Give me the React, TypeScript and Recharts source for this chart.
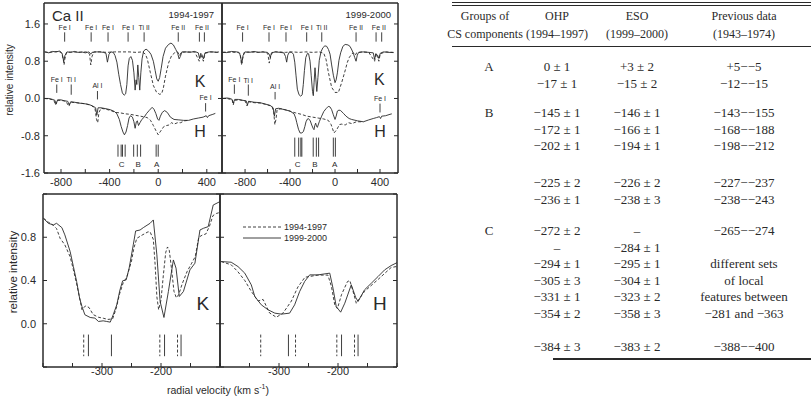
import React from 'react';
import { LineChart, Line, XAxis, YAxis, ReferenceLine, ReferenceDot, ReferenceArea, Legend } from 'recharts';

type Pt = [number, number];

// ---- top panels: Ca II K (plotted around 1.0) and H (around 0.0), velocity in km/s
const kOhpSolid: Pt[] = [
  [-935, 1.0], [-900, 0.98], [-870, 1.01], [-840, 1.0], [-810, 1.02], [-790, 0.96], [-778, 0.8], [-768, 0.92],
  [-750, 1.0], [-720, 0.99], [-690, 1.01], [-660, 0.99], [-630, 1.0], [-600, 0.98], [-570, 1.0], [-555, 0.95],
  [-545, 0.99], [-510, 1.0], [-480, 1.0], [-450, 0.99], [-430, 0.97], [-418, 0.78], [-405, 0.95], [-390, 1.0],
  [-370, 0.99], [-355, 0.92], [-340, 0.78], [-325, 0.52], [-310, 0.3], [-295, 0.12], [-280, 0.07], [-268, 0.1],
  [-258, 0.3], [-248, 0.7], [-238, 0.86], [-225, 0.9], [-212, 0.82], [-200, 0.55], [-190, 0.18], [-182, 0.4],
  [-176, 0.3], [-168, 0.72], [-160, 0.45], [-152, 0.18], [-143, 0.55], [-133, 0.85], [-120, 1.02], [-100, 1.06],
  [-80, 1.02], [-60, 0.95], [-40, 0.8], [-25, 0.6], [-12, 0.42], [0, 0.37], [12, 0.45], [25, 0.65], [40, 0.9],
  [60, 1.08], [85, 1.16], [105, 1.19], [125, 1.15], [145, 1.05], [160, 0.97], [172, 0.85], [182, 0.9], [195, 1.0],
  [230, 1.0], [260, 0.99], [300, 1.01], [330, 0.98], [340, 0.86], [350, 0.97], [360, 0.94], [372, 0.85],
  [385, 0.98], [420, 1.0], [450, 1.0], [480, 0.99], [500, 1.0],
];
const kOhpDash: Pt[] = [
  [-935, 1.0], [-900, 0.99], [-860, 1.0], [-820, 1.01], [-795, 0.98], [-782, 0.85], [-775, 0.72], [-768, 0.85],
  [-755, 0.99], [-700, 1.0], [-640, 0.99], [-590, 1.0], [-565, 0.95], [-555, 0.72], [-545, 0.9], [-530, 1.0],
  [-480, 1.0], [-420, 0.99], [-360, 1.0], [-300, 1.0], [-240, 1.0], [-180, 0.99], [-130, 1.0], [-105, 0.95],
  [-90, 0.85], [-65, 0.56], [-40, 0.28], [-15, 0.14], [10, 0.09], [28, 0.1], [42, 0.22], [60, 0.48], [85, 0.76],
  [110, 0.92], [135, 0.98], [160, 1.0], [175, 0.92], [190, 0.99], [230, 1.0], [300, 1.0], [338, 0.8], [350, 0.95],
  [372, 0.8], [385, 0.97], [430, 1.0], [500, 0.99],
];
const hOhpSolid: Pt[] = [
  [-935, 0.0], [-900, 0.0], [-870, -0.02], [-850, -0.04], [-840, -0.12], [-828, -0.03], [-800, -0.03], [-770, -0.05],
  [-745, -0.06], [-732, -0.14], [-720, -0.07], [-690, -0.08], [-650, -0.1], [-610, -0.11], [-570, -0.13],
  [-540, -0.16], [-515, -0.2], [-505, -0.36], [-495, -0.2], [-470, -0.2], [-430, -0.22], [-395, -0.24],
  [-360, -0.28], [-340, -0.33], [-320, -0.45], [-305, -0.6], [-290, -0.72], [-278, -0.78], [-265, -0.72],
  [-252, -0.58], [-240, -0.42], [-228, -0.37], [-212, -0.4], [-200, -0.5], [-190, -0.64], [-180, -0.5],
  [-172, -0.48], [-162, -0.58], [-150, -0.52], [-135, -0.45], [-118, -0.41], [-95, -0.32], [-75, -0.26],
  [-50, -0.19], [-35, -0.23], [-20, -0.32], [-5, -0.44], [6, -0.47], [18, -0.38], [33, -0.3], [53, -0.26],
  [75, -0.3], [100, -0.4], [130, -0.45], [170, -0.46], [210, -0.47], [250, -0.47], [290, -0.44], [330, -0.42],
  [370, -0.4], [395, -0.37], [405, -0.41], [415, -0.37], [450, -0.34], [470, -0.32],
];
const hOhpDash: Pt[] = [
  [-935, 0.0], [-900, -0.01], [-860, -0.03], [-845, -0.14], [-835, -0.04], [-800, -0.04], [-760, -0.06],
  [-735, -0.17], [-722, -0.08], [-680, -0.09], [-640, -0.1], [-590, -0.12], [-550, -0.15], [-520, -0.22],
  [-508, -0.45], [-498, -0.52], [-488, -0.3], [-470, -0.21], [-430, -0.23], [-390, -0.26], [-350, -0.3],
  [-310, -0.31], [-270, -0.33], [-230, -0.34], [-190, -0.36], [-146, -0.38], [-110, -0.4], [-91, -0.41],
  [-63, -0.47], [-40, -0.58], [-21, -0.68], [0, -0.78], [20, -0.7], [47, -0.6], [70, -0.58], [88, -0.57],
  [110, -0.52], [130, -0.55], [160, -0.52], [185, -0.52], [215, -0.48], [245, -0.47],
];
const kEsoSolid: Pt[] = [
  [-1000, 0.99], [-963, 0.985], [-920, 1.01], [-874, 1.0], [-848, 0.97], [-836, 0.85], [-828, 0.76], [-818, 0.92],
  [-800, 1.0], [-760, 0.99], [-720, 1.01], [-680, 0.99], [-640, 1.0], [-600, 0.99], [-585, 0.95], [-576, 0.88],
  [-565, 0.98], [-530, 1.0], [-490, 0.99], [-455, 0.98], [-440, 0.9], [-430, 0.78], [-420, 0.93], [-405, 1.0],
  [-385, 0.99], [-370, 0.95], [-358, 0.78], [-347, 0.5], [-335, 0.2], [-320, 0.08], [-305, 0.05], [-292, 0.08],
  [-282, 0.3], [-272, 0.6], [-260, 0.88], [-245, 0.97], [-235, 0.96], [-222, 0.8], [-212, 0.5], [-200, 0.15],
  [-193, 0.06], [-186, 0.35], [-178, 0.66], [-170, 0.4], [-162, 0.15], [-152, 0.45], [-140, 0.82], [-125, 1.0],
  [-108, 1.09], [-90, 1.13], [-74, 1.12], [-58, 1.05], [-44, 0.95], [-30, 0.72], [-15, 0.5], [0, 0.34], [10, 0.4],
  [21, 0.55], [35, 0.82], [50, 0.98], [70, 1.12], [90, 1.16], [115, 1.15], [133, 1.12], [150, 1.04], [163, 0.97],
  [175, 0.88], [187, 0.8], [198, 0.93], [210, 0.99], [250, 1.0], [300, 0.99], [340, 0.98], [352, 0.84],
  [362, 0.96], [378, 0.93], [390, 0.86], [402, 0.97], [430, 1.0], [480, 0.99], [520, 0.985],
];
const kEsoDash: Pt[] = [
  [-1000, 0.99], [-960, 1.0], [-900, 0.99], [-860, 1.0], [-842, 0.95], [-832, 0.72], [-822, 0.85], [-808, 0.99],
  [-760, 1.0], [-700, 0.99], [-640, 1.0], [-598, 0.97], [-585, 0.76], [-572, 0.9], [-555, 1.0], [-500, 1.0],
  [-440, 0.99], [-380, 1.0], [-320, 0.99], [-260, 1.0], [-200, 0.99], [-140, 1.0], [-100, 0.97], [-80, 0.84],
  [-59, 0.56], [-30, 0.24], [0, 0.13], [30, 0.13], [59, 0.34], [89, 0.59], [110, 0.78], [127, 0.88], [150, 0.96],
  [163, 0.98], [180, 0.93], [192, 0.98], [240, 1.0], [300, 0.99], [352, 0.8], [365, 0.97], [390, 0.8],
  [402, 0.96], [450, 1.0], [520, 0.99],
];
const hEsoSolid: Pt[] = [
  [-1000, 0.0], [-960, 0.01], [-933, 0.0], [-915, -0.02], [-904, -0.1], [-892, -0.02], [-860, -0.02],
  [-820, -0.04], [-790, -0.05], [-779, -0.14], [-768, -0.06], [-720, -0.08], [-667, -0.09], [-620, -0.12],
  [-575, -0.15], [-550, -0.2], [-539, -0.38], [-528, -0.22], [-500, -0.21], [-450, -0.24], [-400, -0.27],
  [-364, -0.33], [-350, -0.42], [-340, -0.52], [-325, -0.66], [-311, -0.74], [-295, -0.74], [-281, -0.71],
  [-268, -0.6], [-258, -0.5], [-245, -0.44], [-237, -0.43], [-220, -0.48], [-207, -0.57], [-195, -0.64],
  [-187, -0.67], [-180, -0.58], [-172, -0.53], [-164, -0.6], [-157, -0.62], [-140, -0.5], [-119, -0.38],
  [-100, -0.28], [-80, -0.22], [-60, -0.17], [-45, -0.18], [-30, -0.24], [-15, -0.35], [0, -0.45], [10, -0.38],
  [21, -0.27], [35, -0.25], [50, -0.26], [75, -0.32], [98, -0.38], [125, -0.43], [148, -0.45], [200, -0.48],
  [252, -0.5], [300, -0.46], [340, -0.43], [370, -0.41], [395, -0.39], [405, -0.43], [415, -0.38], [450, -0.37],
  [489, -0.34], [505, -0.33],
];
const hEsoDash: Pt[] = [
  [-1000, 0.0], [-960, 0.0], [-915, -0.03], [-905, -0.14], [-895, -0.04], [-850, -0.03], [-800, -0.05],
  [-782, -0.16], [-770, -0.07], [-720, -0.09], [-660, -0.1], [-610, -0.13], [-560, -0.17], [-545, -0.3],
  [-535, -0.56], [-525, -0.45], [-515, -0.24], [-480, -0.22], [-430, -0.25], [-380, -0.29], [-350, -0.31],
  [-300, -0.34], [-250, -0.38], [-200, -0.4], [-150, -0.42], [-100, -0.44], [-60, -0.47], [-35, -0.56],
  [-9, -0.74], [15, -0.67], [40, -0.56], [60, -0.55], [90, -0.57], [120, -0.52], [150, -0.54], [190, -0.5],
  [252, -0.5],
];

// ---- bottom panels: CS components, 1994-1997 (dashed) and 1999-2000 (solid)
const kZoom9900: Pt[] = [
  [-399, 0.975], [-391, 0.929], [-382.5, 0.914], [-377, 0.929], [-368, 0.889], [-363, 0.822], [-354, 0.668],
  [-348.5, 0.529], [-343, 0.391], [-338, 0.237], [-334, 0.16], [-329, 0.083], [-320, 0.058], [-312, 0.052],
  [-306, 0.021], [-298, 0.027], [-292, 0.021], [-286, 0.015], [-281, 0.083], [-275, 0.175], [-269.5, 0.314],
  [-265, 0.397], [-259, 0.406], [-254, 0.514], [-247, 0.73], [-243, 0.858], [-235.5, 0.867], [-230, 0.889],
  [-218.5, 0.929], [-213, 0.96], [-207, 0.637], [-201.5, 0.206], [-195, 0.058], [-187.5, 0.298], [-179, 0.59],
  [-174.5, 0.514], [-169, 0.252], [-162, 0.298], [-151, 0.498], [-142.5, 0.56], [-134, 0.867], [-128, 0.883],
  [-120, 0.898], [-111.5, 1.098], [-100, 1.13],
];
const kZoom9497: Pt[] = [
  [-399, 0.975], [-391, 0.94], [-382.5, 0.91], [-377, 0.88], [-371, 0.79], [-363, 0.73], [-354, 0.62],
  [-348.5, 0.5], [-343, 0.37], [-338, 0.24], [-334, 0.13], [-328, 0.165], [-322, 0.15], [-315, 0.085],
  [-306, 0.06], [-297, 0.05], [-290, 0.04], [-282, 0.045], [-276, 0.14], [-270, 0.28], [-264, 0.38], [-258, 0.43],
  [-250, 0.58], [-246, 0.7], [-241, 0.79], [-232, 0.82], [-222, 0.85], [-218.5, 0.85], [-213, 0.78], [-210, 0.55],
  [-207, 0.25], [-204, 0.13], [-200, 0.22], [-196, 0.45], [-192, 0.66], [-189, 0.71], [-186, 0.68], [-182, 0.5],
  [-178, 0.3], [-174, 0.24], [-170, 0.27], [-164, 0.37], [-156, 0.48], [-148, 0.56], [-142, 0.62], [-136, 0.8],
  [-130, 0.82], [-124, 0.83], [-118, 0.9], [-112, 1.0], [-106, 1.02], [-100, 1.03],
];
const hZoom9900: Pt[] = [
  [-398, 0.575], [-381, 0.569], [-369.5, 0.529], [-358, 0.468], [-347, 0.36], [-341, 0.252], [-330, 0.175],
  [-318.5, 0.129], [-307, 0.098], [-296, 0.089], [-282, 0.098], [-273.5, 0.175], [-265, 0.298], [-256.5, 0.391],
  [-248, 0.452], [-234, 0.452], [-214, 0.468], [-208.5, 0.329], [-203, 0.16], [-195.5, 0.107], [-188.5, 0.19],
  [-177.5, 0.36], [-170, 0.243], [-166, 0.206], [-155, 0.314], [-143.5, 0.375], [-132, 0.437], [-121, 0.498],
  [-110, 0.538], [-100, 0.565],
];
const hZoom9497: Pt[] = [
  [-398, 0.575], [-381, 0.545], [-369.5, 0.48], [-358, 0.4], [-347, 0.3], [-335.5, 0.21], [-327, 0.225],
  [-316, 0.1], [-304.5, 0.06], [-293, 0.1], [-279, 0.21], [-268, 0.34], [-256, 0.43], [-234, 0.45], [-217, 0.45],
  [-211, 0.34], [-205.5, 0.175], [-201, 0.14], [-194, 0.27], [-184, 0.39], [-180, 0.4], [-174.5, 0.3],
  [-169, 0.19], [-155, 0.3], [-132, 0.41], [-110, 0.52], [-100, 0.53],
];

// ---- line identifications and CS component velocities
type Ident = { name: string; v: number[]; ly: number; y0: number; y1: number; lv?: number };
const ohpIds: Ident[] = [
  { name: 'Fe I', v: [-770], ly: 1.52, y0: 1.42, y1: 1.22 },
  { name: 'Fe I', v: [-552], ly: 1.52, y0: 1.42, y1: 1.22 },
  { name: 'Fe I', v: [-413], ly: 1.52, y0: 1.42, y1: 1.22 },
  { name: 'Fe I', v: [-248], ly: 1.52, y0: 1.42, y1: 1.22 },
  { name: 'Ti II', v: [-116], ly: 1.52, y0: 1.42, y1: 1.22 },
  { name: 'Fe II', v: [165], ly: 1.52, y0: 1.42, y1: 1.22 },
  { name: 'Fe II', v: [339, 380], lv: 360, ly: 1.52, y0: 1.42, y1: 1.22 },
  { name: 'Fe I', v: [-835], ly: 0.41, y0: 0.3, y1: 0.12 },
  { name: 'Ti I', v: [-716], ly: 0.41, y0: 0.3, y1: 0.08 },
  { name: 'Al I', v: [-500], ly: 0.28, y0: 0.16, y1: -0.02 },
  { name: 'Fe I', v: [390], ly: 0.02, y0: -0.1, y1: -0.28 },
];
const esoIds: Ident[] = [
  { name: 'Fe I', v: [-822], ly: 1.52, y0: 1.42, y1: 1.22 },
  { name: 'Fe I', v: [-587], ly: 1.52, y0: 1.42, y1: 1.22 },
  { name: 'Fe I', v: [-436], ly: 1.52, y0: 1.42, y1: 1.22 },
  { name: 'Fe I', v: [-252], ly: 1.52, y0: 1.42, y1: 1.22 },
  { name: 'Ti II', v: [-118], ly: 1.52, y0: 1.42, y1: 1.22 },
  { name: 'Fe II', v: [187], ly: 1.52, y0: 1.42, y1: 1.22 },
  { name: 'Fe II', v: [365, 415], lv: 390, ly: 1.52, y0: 1.42, y1: 1.22 },
  { name: 'Fe I', v: [-895], ly: 0.41, y0: 0.3, y1: 0.1 },
  { name: 'Ti I', v: [-771], ly: 0.39, y0: 0.3, y1: 0.06 },
  { name: 'Al I', v: [-533], ly: 0.26, y0: 0.14, y1: -0.02 },
  { name: 'Fe I', v: [400], ly: 0.0, y0: -0.11, y1: -0.3 },
];
const ohpGroups = [
  { name: 'A', v: [0, -17], lv: -13 },
  { name: 'B', v: [-145, -172, -202], lv: -165 },
  { name: 'C', v: [-272, -294, -305, -331], lv: -302 },
];
const esoGroups = [
  { name: 'A', v: [3, -15], lv: -3 },
  { name: 'B', v: [-146, -166, -194], lv: -178 },
  { name: 'C', v: [-295, -304, -323, -358], lv: -332 },
];
const kMarksDash = [-331, -202, -172];
const kMarksSolid = [-323, -284, -194, -166];
const hMarksDash = [-331, -272, -202, -172];
const hMarksSolid = [-284, -194, -166];

// ---- table
const tableHead = [
  ['Groups of', 'OHP', 'ESO', 'Previous data'],
  ['CS components', '(1994–1997)', '(1999–2000)', '(1943–1974)'],
];
const rowsA = [
  ['A', '0 ± 1', '+3 ± 2', '+5−−5'],
  ['', '−17 ± 1', '−15 ± 2', '−12−−15'],
];
const rowsB1 = [
  ['B', '−145 ± 1', '−146 ± 1', '−143−−155'],
  ['', '−172 ± 1', '−166 ± 1', '−168−−188'],
  ['', '−202 ± 1', '−194 ± 1', '−198−−212'],
];
const rowsB2 = [
  ['', '−225 ± 2', '−226 ± 2', '−227−−237'],
  ['', '−236 ± 1', '−238 ± 3', '−238−−243'],
];
const rowsC1 = [
  ['C', '−272 ± 2', '–', '−265−−274'],
  ['', '–', '−284 ± 1', ''],
  ['', '−294 ± 1', '−295 ± 1', 'different sets'],
  ['', '−305 ± 3', '−304 ± 1', 'of local'],
  ['', '−331 ± 1', '−323 ± 2', 'features between'],
  ['', '−354 ± 2', '−358 ± 3', '−281 and −363'],
];
const rowsC2 = [['', '−384 ± 3', '−383 ± 2', '−388−−400']];

const ink = '#2a2a2a';
const sans = '"Liberation Sans", Arial, sans-serif';
const serif = '"Liberation Serif", "Times New Roman", serif';
const tickFont = { fill: ink, fontSize: 11 };
const topXTicks = [-800, -600, -400, -200, 0, 200, 400];
const topYTicks = [-1.6, -0.8, 0, 0.8, 1.6];
const botXTicks = [-400, -350, -300, -250, -200, -150, -100];
const botYTicks = [-0.4, 0, 0.4, 0.8, 1.2];

const rows = (a: Pt[]) => a.map(([v, i]) => ({ v, i }));
const blank = () => '';

function frameAxes(xDomain: number[], yDomain: number[], xTicks: number[], yTicks: number[],
  xFmt: (v: number) => string, yFmt: (v: number) => string, xH: number, yW: number, yMargin: number, xMargin: number) {
  const common = { stroke: ink, tickSize: -4, allowDataOverflow: true, type: 'number' as const };
  return [
    <XAxis key="xb" dataKey="v" domain={xDomain} ticks={xTicks} tickFormatter={xFmt} height={xH}
      tickMargin={xMargin} tick={tickFont} interval={0} {...common} />,
    <XAxis key="xt" xAxisId="top" orientation="top" domain={xDomain} ticks={xTicks} tickFormatter={blank}
      height={1} interval={0} {...common} />,
    <YAxis key="yl" domain={yDomain} ticks={yTicks} tickFormatter={yFmt} width={yW} tickMargin={yMargin}
      tick={tickFont} interval={0} {...common} />,
    <YAxis key="yr" yAxisId="right" orientation="right" domain={yDomain} ticks={yTicks} tickFormatter={blank}
      width={1} interval={0} {...common} />,
    <ReferenceArea key="frame" x1={xDomain[0]} x2={xDomain[1]} y1={yDomain[0]} y2={yDomain[1]}
      fill="none" fillOpacity={0} stroke={ink} strokeWidth={1} ifOverflow="visible" />,
  ];
}

function series(solid: Pt[], dashed: Pt[]) {
  return [
    <Line key="d" data={rows(dashed)} dataKey="i" stroke={ink} strokeWidth={0.9} strokeDasharray="3 2"
      dot={false} isAnimationActive={false} type="linear" />,
    <Line key="s" data={rows(solid)} dataKey="i" stroke={ink} strokeWidth={0.9} dot={false}
      isAnimationActive={false} type="linear" />,
  ];
}

function word(key: string, x: number, y: number, text: string, size: number) {
  return (
    <ReferenceDot key={key} x={x} y={y} r={0} fill="none" stroke="none" ifOverflow="visible"
      label={{ value: text, position: 'center', fontSize: size, fill: ink }} />
  );
}

function seg(key: string, x: number, y0: number, y1: number, dashed = false) {
  return (
    <ReferenceLine key={key} segment={[{ x, y: y0 }, { x, y: y1 }]} stroke={ink} strokeWidth={0.9}
      strokeDasharray={dashed ? '3 2' : undefined} ifOverflow="visible" />
  );
}

function idMarks(ids: Ident[]) {
  const out: React.ReactNode[] = [];
  ids.forEach((d, k) => {
    d.v.forEach((v, j) => out.push(seg(`id${k}-${j}`, v, d.y0, d.y1)));
    out.push(word(`idl${k}`, d.lv ?? d.v[0], d.ly, d.name, 7));
  });
  return out;
}

function groupMarks(groups: { name: string; v: number[]; lv: number }[], y0: number, y1: number) {
  const out: React.ReactNode[] = [];
  groups.forEach((g, k) => {
    g.v.forEach((v, j) => out.push(seg(`g${k}-${j}`, v, y0, y1)));
    out.push(word(`gl${k}`, g.lv, -1.41, g.name, 8));
  });
  return out;
}

function compMarks(dashed: number[], solid: number[]) {
  return [
    ...dashed.map((v, k) => seg(`md${k}`, v, -0.1, -0.3, true)),
    ...solid.map((v, k) => seg(`ms${k}`, v, -0.1, -0.3)),
  ];
}

const topFmt = (v: number) => (v % 400 === 0 ? String(v) : '');
const yTopFmt = (v: number) => v.toFixed(1);
const botFmt = (v: number) => (v === -300 || v === -200 ? String(v) : '');
const yBotFmt = (v: number) => (v >= 0 && v <= 0.8 ? v.toFixed(1) : '');

function Txt({ x, y, size, children, anchor = 'middle', rotate = 0, font = sans }:
  { x: number; y: number; size: number; children: React.ReactNode; anchor?: 'start' | 'middle' | 'end'; rotate?: number; font?: string }) {
  const tx = anchor === 'start' ? '0' : anchor === 'end' ? '-100%' : '-50%';
  return (
    <div style={{
      position: 'absolute', left: x, top: y, fontSize: size, fontFamily: font, color: ink, whiteSpace: 'nowrap',
      lineHeight: 1, transform: `translate(${tx}, -50%) rotate(${rotate}deg)`, transformOrigin: rotate ? 'center' : undefined,
    }}>{children}</div>
  );
}

function LegendBox() {
  const items = [{ label: '1994-1997', dash: '3 2' }, { label: '1999-2000', dash: undefined }];
  return (
    <div style={{ fontFamily: sans, fontSize: 9, color: ink }}>
      {items.map((it) => (
        <div key={it.label} style={{ display: 'flex', alignItems: 'center', height: 11.5 }}>
          <svg width={38} height={4} style={{ marginRight: 3 }}>
            <line x1={0} y1={2} x2={38} y2={2} stroke={ink} strokeWidth={0.9} strokeDasharray={it.dash} />
          </svg>
          <span>{it.label}</span>
        </div>
      ))}
    </div>
  );
}

function tableBlock(key: string, data: string[][], y0: number, step: number, size = 13, cols = [489, 557, 637, 744]) {
  return data.map((r, i) => r.map((c, j) => c ? (
    <Txt key={`${key}${i}-${j}`} x={cols[j]} y={y0 + i * step} size={size} font={serif}>{c}</Txt>
  ) : null));
}

export default function App() {
  const rowStep = 16.5;
  return (
    <div style={{ position: 'absolute', left: 0, top: 0, width: 811, height: 399, background: '#fff', fontFamily: sans, overflow: 'hidden' }}>
      {/* top left: OHP 1994-1997 */}
      <div style={{ position: 'absolute', left: 0, top: 0 }}>
        <LineChart width={223} height={200} margin={{ top: 2, right: 0, bottom: 0, left: 14 }}>
          {frameAxes([-940, 525], [-1.6, 2.05], topXTicks, topYTicks, topFmt, yTopFmt, 27, 30, 8, 9)}
          {series(kOhpSolid, kOhpDash)}
          {series(hOhpSolid, hOhpDash)}
          {idMarks(ohpIds)}
          {groupMarks(ohpGroups, -0.99, -1.25)}
          {word('K', 345, 0.37, 'K', 16)}
          {word('H', 345, -0.7, 'H', 16)}
        </LineChart>
      </div>
      {/* top right: ESO 1999-2000 */}
      <div style={{ position: 'absolute', left: 221, top: 0 }}>
        <LineChart width={178} height={200} margin={{ top: 2, right: 0, bottom: 0, left: 0 }}>
          {frameAxes([-1005, 560], [-1.6, 2.05], topXTicks, topYTicks, topFmt, blank, 27, 1, 8, 9)}
          {series(kEsoSolid, kEsoDash)}
          {series(hEsoSolid, hEsoDash)}
          {idMarks(esoIds)}
          {groupMarks(esoGroups, -0.84, -1.25)}
          {word('K', 394, 0.41, 'K', 16)}
          {word('H', 400, -0.7, 'H', 16)}
        </LineChart>
      </div>
      {/* bottom left: K */}
      <div style={{ position: 'absolute', left: 0, top: 190 }}>
        <LineChart width={221} height={200} margin={{ top: 3, right: 0, bottom: 0, left: 13 }}>
          {frameAxes([-400, -100], [-0.4, 1.2], botXTicks, botYTicks, botFmt, yBotFmt, 23, 30, 11, 4)}
          {series(kZoom9900, kZoom9497)}
          {compMarks(kMarksDash, kMarksSolid)}
          {word('Kb', -129, 0.19, 'K', 19)}
        </LineChart>
      </div>
      {/* bottom right: H */}
      <div style={{ position: 'absolute', left: 219, top: 190 }}>
        <LineChart width={179} height={200} margin={{ top: 3, right: 0, bottom: 0, left: 0 }}>
          {frameAxes([-400, -100], [-0.4, 1.2], botXTicks, botYTicks, botFmt, blank, 23, 1, 11, 4)}
          {series(hZoom9900, hZoom9497)}
          {compMarks(hMarksDash, hMarksSolid)}
          {word('Hb', -129, 0.19, 'H', 19)}
          <Legend layout="horizontal" verticalAlign="middle" align="center" content={() => <LegendBox />}
            wrapperStyle={{ left: 24, top: 31, width: 110, height: 24 }} />
        </LineChart>
      </div>

      <Txt x={52} y={15} size={15} anchor="start">Ca II</Txt>
      <Txt x={214} y={15} size={9.5} anchor="end">1994-1997</Txt>
      <Txt x={391} y={15} size={9.5} anchor="end">1999-2000</Txt>
      <Txt x={10} y={80} size={10} rotate={-90}>relative intensity</Txt>
      <Txt x={14} y={272} size={11.5} rotate={-90}>relative intensity</Txt>
      <Txt x={218} y={389} size={10.5}>radial velocity (km s<sup style={{ fontSize: 7 }}>-1</sup>)</Txt>

      {/* table */}
      <div style={{ position: 'absolute', left: 452, top: 2, width: 359, borderTop: `1px solid ${ink}` }} />
      <div style={{ position: 'absolute', left: 452, top: 4.5, width: 359, borderTop: `1.5px solid ${ink}` }} />
      {tableBlock('h', tableHead, 16, 18, 12, [485, 557, 637, 744])}
      <div style={{ position: 'absolute', left: 452, top: 46, width: 359, borderTop: `1px solid ${ink}` }} />
      {tableBlock('a', rowsA, 66, rowStep)}
      {tableBlock('b1', rowsB1, 112, rowStep)}
      {tableBlock('b2', rowsB2, 182, rowStep)}
      {tableBlock('c1', rowsC1, 230, 16.6)}
      {tableBlock('c2', rowsC2, 345.5, rowStep)}
      <div style={{ position: 'absolute', left: 553, top: 358, width: 258, borderTop: `2px solid ${ink}` }} />
    </div>
  );
}
